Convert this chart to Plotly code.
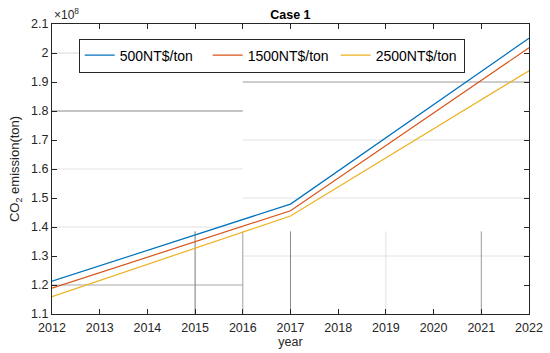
import plotly.graph_objects as go

years = [2012, 2017, 2022]
series_names = ["500NT$/ton", "1500NT$/ton", "2500NT$/ton"]
emission_500 = [1.213e8, 1.479e8, 2.051e8]
emission_1500 = [1.189e8, 1.456e8, 2.018e8]
emission_2500 = [1.160e8, 1.438e8, 1.939e8]
colors = ["#0072BD", "#D95319", "#EDB120"]

x_ticks = list(range(2012, 2023))
y_tickvals = [1.1e8, 1.2e8, 1.3e8, 1.4e8, 1.5e8, 1.6e8, 1.7e8, 1.8e8, 1.9e8, 2.0e8, 2.1e8]
y_ticktext = ["1.1", "1.2", "1.3", "1.4", "1.5", "1.6", "1.7", "1.8", "1.9", "2", "2.1"]

# partial grid segments as they appear in the figure
h_grid = [  # (y, x0, x1, color)
    (1.2e8, 2012, 2016, "#a8a8a8"),
    (1.4e8, 2012, 2016, "#e2e2e2"),
    (1.6e8, 2012, 2016, "#e2e2e2"),
    (1.8e8, 2012, 2016, "#8a8a8a"),
    (2.0e8, 2012, 2016, "#d8d8d8"),
    (1.3e8, 2016, 2022, "#e2e2e2"),
    (1.5e8, 2016, 2022, "#e2e2e2"),
    (1.7e8, 2016, 2022, "#e2e2e2"),
    (1.9e8, 2016, 2022, "#9a9a9a"),
]
v_grid = [  # (x, y_top, color)
    (2015, 1.385e8, "#7a7a7a"),
    (2016, 1.385e8, "#a0a0a0"),
    (2017, 1.385e8, "#8a8a8a"),
    (2019, 1.385e8, "#e0e0e0"),
    (2021, 1.385e8, "#9a9a9a"),
]

fig = go.Figure()
for name, vals, c in zip(series_names, [emission_500, emission_1500, emission_2500], colors):
    fig.add_trace(go.Scatter(x=years, y=vals, mode="lines", name=name,
                             line=dict(color=c, width=1.2)))

shapes = []
for y, x0, x1, c in h_grid:
    shapes.append(dict(type="line", xref="x", yref="y", x0=x0, x1=x1, y0=y, y1=y,
                       line=dict(color=c, width=1), layer="below"))
for x, yt, c in v_grid:
    shapes.append(dict(type="line", xref="x", yref="y", x0=x, x1=x, y0=1.1e8, y1=yt,
                       line=dict(color=c, width=1), layer="below"))

FF = "Liberation Sans, Arial, sans-serif"
axis_font = dict(family=FF, size=12.5, color="#262626")

fig.update_layout(
    width=550, height=353,
    margin=dict(l=52, r=21, t=24, b=39, autoexpand=False),
    paper_bgcolor="white", plot_bgcolor="white",
    font=axis_font,
    shapes=shapes,
    title=dict(text="<b>Case 1</b>", x=0.528, xanchor="center", y=0.9575,
               yanchor="middle", font=dict(family=FF, size=12.5, color="black")),
    xaxis=dict(range=[2012, 2022], tickvals=x_ticks, ticks="inside", ticklen=5,
               tickcolor="#262626", showline=True, linecolor="#262626", linewidth=1,
               mirror="ticks", showgrid=False, zeroline=False, tickfont=axis_font,
               automargin=False, ticklabelstandoff=2,
               title=dict(text="year", standoff=0, font=axis_font)),
    yaxis=dict(range=[1.1e8, 2.1e8], tickvals=y_tickvals, ticktext=y_ticktext,
               ticks="inside", ticklen=5, tickcolor="#262626", showline=True,
               linecolor="#262626", linewidth=1, mirror="ticks", showgrid=False,
               zeroline=False, tickfont=axis_font, automargin=False,
               title=dict(text="CO<sub>2</sub> emission(ton)", standoff=8,
                          font=dict(family=FF, size=13, color="#262626"))),
    legend=dict(orientation="h", x=0.056, y=0.95, xanchor="left", yanchor="top",
                bgcolor="white", bordercolor="#262626", borderwidth=1,
                font=dict(family=FF, size=14, color="black"),
                entrywidth=83, entrywidthmode="pixels", itemwidth=30,
                tracegroupgap=0),
    annotations=[dict(text="×10<sup>8</sup>", xref="paper", yref="paper", x=0.0, y=1.0,
                      xanchor="left", yanchor="bottom", showarrow=False, yshift=0,
                      font=dict(family=FF, size=12, color="#262626"))],
)

fig.write_html("out.html", config={"displayModeBar": False},
               post_script="document.body.style.margin='0';document.body.style.overflow='hidden';")
